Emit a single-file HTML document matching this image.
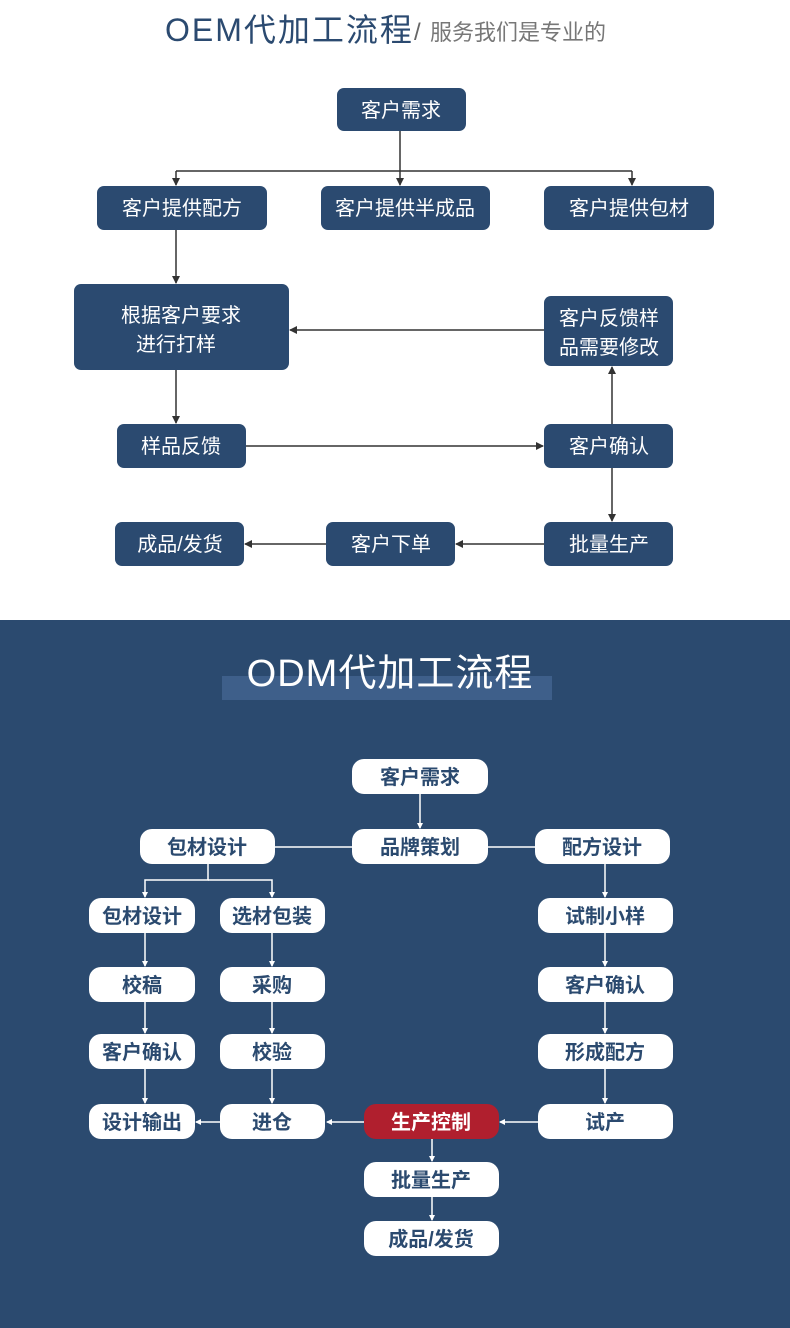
<!DOCTYPE html>
<html><head><meta charset="utf-8"><style>
html,body{margin:0;padding:0;background:#fff}
svg{display:block}
text{font-family:"Liberation Sans","Noto Sans CJK SC",sans-serif}
</style></head><body>
<svg width="790" height="1328" viewBox="0 0 790 1328" xmlns="http://www.w3.org/2000/svg">
<defs>
<marker id="a" markerWidth="8" markerHeight="8" refX="7" refY="4" orient="auto" markerUnits="userSpaceOnUse"><path d="M0,0 L8,4 L0,8 z" fill="#333"/></marker>
<marker id="w" markerWidth="6" markerHeight="6" refX="5" refY="3" orient="auto" markerUnits="userSpaceOnUse"><path d="M0,0 L6,3 L0,6 z" fill="#fff"/></marker>
</defs>
<rect width="790" height="620" fill="#fff"/>
<text x="165" y="41" font-size="32" fill="#2b4a70" letter-spacing="2">OEM代加工流程</text>
<text x="414" y="40" font-size="24" fill="#666">/</text>
<text x="430" y="40" font-size="22" fill="#777">服务我们是专业的</text>
<g stroke="#333" stroke-width="1.5" fill="none">
<path d="M400 131 V171"/>
<path d="M176 171 H632"/>
<path d="M176 171 V185" marker-end="url(#a)"/>
<path d="M400 171 V185" marker-end="url(#a)"/>
<path d="M632 171 V185" marker-end="url(#a)"/>
<path d="M176 230 V283" marker-end="url(#a)"/>
<path d="M544 330 H290" marker-end="url(#a)"/>
<path d="M176 370 V423" marker-end="url(#a)"/>
<path d="M246 446 H543" marker-end="url(#a)"/>
<path d="M612 424 V367" marker-end="url(#a)"/>
<path d="M612 468 V521" marker-end="url(#a)"/>
<path d="M544 544 H456" marker-end="url(#a)"/>
<path d="M326 544 H245" marker-end="url(#a)"/>
</g>
<g fill="#2b4a70">
<rect x="337" y="88" width="129" height="43" rx="7"/>
<rect x="97" y="186" width="170" height="44" rx="7"/>
<rect x="321" y="186" width="169" height="44" rx="7"/>
<rect x="544" y="186" width="170" height="44" rx="7"/>
<rect x="74" y="284" width="215" height="86" rx="7"/>
<rect x="544" y="296" width="129" height="70" rx="7"/>
<rect x="117" y="424" width="129" height="44" rx="7"/>
<rect x="544" y="424" width="129" height="44" rx="7"/>
<rect x="544" y="522" width="129" height="44" rx="7"/>
<rect x="326" y="522" width="129" height="44" rx="7"/>
<rect x="115" y="522" width="129" height="44" rx="7"/>
</g>
<g fill="#fff" font-size="20" text-anchor="middle">
<text x="401" y="117">客户需求</text>
<text x="182" y="215">客户提供配方</text>
<text x="405" y="215">客户提供半成品</text>
<text x="629" y="215">客户提供包材</text>
<text x="181" y="322">根据客户要求</text>
<text x="176" y="351">进行打样</text>
<text x="609" y="325">客户反馈样</text>
<text x="609" y="354">品需要修改</text>
<text x="181" y="453">样品反馈</text>
<text x="609" y="453">客户确认</text>
<text x="609" y="551">批量生产</text>
<text x="391" y="551">客户下单</text>
<text x="180" y="551">成品/发货</text>
</g>
<rect x="0" y="620" width="790" height="708" fill="#2b4a6f"/>
<rect x="222" y="676" width="330" height="24" fill="#3e5f8a"/>
<text x="390" y="686" font-size="38" fill="#fff" text-anchor="middle" letter-spacing="1">ODM代加工流程</text>
<g stroke="#fff" stroke-width="1.5" fill="none">
<path d="M420 794 V828" marker-end="url(#w)"/>
<path d="M275 847 H352 M488 847 H535"/>
<path d="M208 864 V880 H145 V897" marker-end="url(#w)"/>
<path d="M208 880 H272 V897" marker-end="url(#w)"/>
<path d="M605 864 V897" marker-end="url(#w)"/>
<path d="M145 933 V966" marker-end="url(#w)"/>
<path d="M145 1002 V1033" marker-end="url(#w)"/>
<path d="M145 1069 V1103" marker-end="url(#w)"/>
<path d="M272 933 V966" marker-end="url(#w)"/>
<path d="M272 1002 V1033" marker-end="url(#w)"/>
<path d="M272 1069 V1103" marker-end="url(#w)"/>
<path d="M605 933 V966" marker-end="url(#w)"/>
<path d="M605 1002 V1033" marker-end="url(#w)"/>
<path d="M605 1069 V1103" marker-end="url(#w)"/>
<path d="M220 1122 H196" marker-end="url(#w)"/>
<path d="M364 1122 H327" marker-end="url(#w)"/>
<path d="M538 1122 H500" marker-end="url(#w)"/>
<path d="M432 1139 V1161" marker-end="url(#w)"/>
<path d="M432 1197 V1220" marker-end="url(#w)"/>
</g>
<g fill="#fff">
<rect x="352" y="759" width="136" height="35" rx="12"/>
<rect x="352" y="829" width="136" height="35" rx="12"/>
<rect x="140" y="829" width="135" height="35" rx="12"/>
<rect x="535" y="829" width="135" height="35" rx="12"/>
<rect x="89" y="898" width="106" height="35" rx="12"/>
<rect x="220" y="898" width="105" height="35" rx="12"/>
<rect x="89" y="967" width="106" height="35" rx="12"/>
<rect x="220" y="967" width="105" height="35" rx="12"/>
<rect x="89" y="1034" width="106" height="35" rx="12"/>
<rect x="220" y="1034" width="105" height="35" rx="12"/>
<rect x="89" y="1104" width="106" height="35" rx="12"/>
<rect x="220" y="1104" width="105" height="35" rx="12"/>
<rect x="538" y="898" width="135" height="35" rx="12"/>
<rect x="538" y="967" width="135" height="35" rx="12"/>
<rect x="538" y="1034" width="135" height="35" rx="12"/>
<rect x="538" y="1104" width="135" height="35" rx="12"/>
<rect x="364" y="1162" width="135" height="35" rx="12"/>
<rect x="364" y="1221" width="135" height="35" rx="12"/>
</g>
<rect x="364" y="1104" width="135" height="35" rx="12" fill="#b01f2e"/>
<g fill="#2b4a6f" font-size="20" font-weight="bold" text-anchor="middle">
<text x="420" y="784">客户需求</text>
<text x="420" y="854">品牌策划</text>
<text x="207" y="854">包材设计</text>
<text x="602" y="854">配方设计</text>
<text x="142" y="923">包材设计</text>
<text x="272" y="923">选材包装</text>
<text x="142" y="992">校稿</text>
<text x="272" y="992">采购</text>
<text x="142" y="1059">客户确认</text>
<text x="272" y="1059">校验</text>
<text x="142" y="1129">设计输出</text>
<text x="272" y="1129">进仓</text>
<text x="605" y="923">试制小样</text>
<text x="605" y="992">客户确认</text>
<text x="605" y="1059">形成配方</text>
<text x="605" y="1129">试产</text>
<text x="431" y="1187">批量生产</text>
<text x="431" y="1246">成品/发货</text>
<text x="431" y="1129" fill="#fff">生产控制</text>
</g>
</svg>
</body></html>
